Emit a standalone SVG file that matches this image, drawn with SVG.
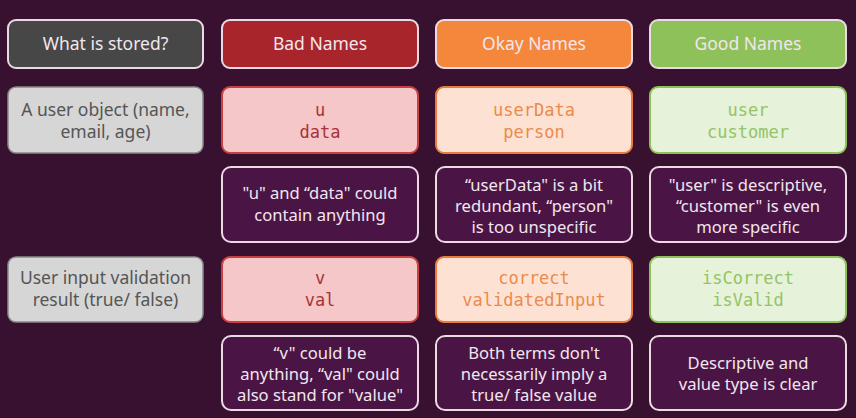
<svg xmlns="http://www.w3.org/2000/svg" width="856" height="418" viewBox="0 0 856 418">
<style>
.t{font-family:"Noto Sans",Lato,sans-serif;font-size:17.5px;text-anchor:middle}
.d{font-family:"Noto Sans",Lato,sans-serif;font-size:16.6px;text-anchor:middle;fill:#f2e6ee}
.m{font-family:"DejaVu Sans Mono","Liberation Mono",monospace;font-size:17px;text-anchor:middle}
.hd{stroke:#eadbe3;stroke-width:2}
.ds{fill:#4a1545;stroke:#eadbe3;stroke-width:2}
.lt{fill:#f2e6ee}
</style>
<rect width="856" height="418" fill="#37112f"/>
<g id="h-stored"><rect class="hd" x="8" y="20" width="195" height="48" rx="8" fill="#474747"/><text class="t lt" x="105.5" y="50">What is stored?</text></g>
<g id="h-bad"><rect class="hd" x="222" y="20" width="196" height="48" rx="8" fill="#a8262b"/><text class="t lt" x="320" y="50">Bad Names</text></g>
<g id="h-okay"><rect class="hd" x="436" y="20" width="196" height="48" rx="8" fill="#f5873d"/><text class="t lt" x="534" y="50">Okay Names</text></g>
<g id="h-good"><rect class="hd" x="650" y="20" width="196" height="48" rx="8" fill="#8fc15a"/><text class="t lt" x="748" y="50">Good Names</text></g>

<g id="r1-what"><rect x="8" y="87" width="195" height="66" rx="8" fill="#d6d6d6" stroke="#8a8a8a" stroke-width="1.5"/><text class="t" fill="#555" x="105.5" y="116">A user object (name,</text><text class="t" fill="#555" x="105.5" y="138">email, age)</text></g>
<g id="r1-bad"><rect x="222" y="87" width="196" height="66" rx="8" fill="#f5c7c9" stroke="#c8403f" stroke-width="2"/><text class="m" fill="#a83236" x="320" y="116">u</text><text class="m" fill="#a83236" x="320" y="138">data</text></g>
<g id="r1-okay"><rect x="436" y="87" width="196" height="66" rx="8" fill="#fde2d3" stroke="#e97c3c" stroke-width="2"/><text class="m" fill="#eb8a4e" x="534" y="116">userData</text><text class="m" fill="#eb8a4e" x="534" y="138">person</text></g>
<g id="r1-good"><rect x="650" y="87" width="196" height="66" rx="8" fill="#e6f2d9" stroke="#8fc15a" stroke-width="2"/><text class="m" fill="#94c466" x="748" y="116">user</text><text class="m" fill="#94c466" x="748" y="138">customer</text></g>

<g id="d1-bad"><rect class="ds" x="222" y="167" width="196" height="75" rx="9"/><text class="d" x="320" y="199">"u" and “data" could</text><text class="d" x="320" y="221">contain anything</text></g>
<g id="d1-okay"><rect class="ds" x="436" y="167" width="196" height="75" rx="9"/><text class="d" x="534" y="191">“userData" is a bit</text><text class="d" x="534" y="212">redundant, “person"</text><text class="d" x="534" y="233">is too unspecific</text></g>
<g id="d1-good"><rect class="ds" x="650" y="167" width="196" height="75" rx="9"/><text class="d" x="748" y="191">"user" is descriptive,</text><text class="d" x="748" y="212">“customer" is even</text><text class="d" x="748" y="233">more specific</text></g>

<g id="r2-what"><rect x="8" y="257" width="195" height="65" rx="8" fill="#d6d6d6" stroke="#8a8a8a" stroke-width="1.5"/><text class="t" fill="#555" x="105.5" y="284">User input validation</text><text class="t" fill="#555" x="105.5" y="306">result (true/ false)</text></g>
<g id="r2-bad"><rect x="222" y="257" width="196" height="65" rx="8" fill="#f5c7c9" stroke="#c8403f" stroke-width="2"/><text class="m" fill="#a83236" x="320" y="284">v</text><text class="m" fill="#a83236" x="320" y="306">val</text></g>
<g id="r2-okay"><rect x="436" y="257" width="196" height="65" rx="8" fill="#fde2d3" stroke="#e97c3c" stroke-width="2"/><text class="m" fill="#eb8a4e" x="534" y="284">correct</text><text class="m" fill="#eb8a4e" x="534" y="306">validatedInput</text></g>
<g id="r2-good"><rect x="650" y="257" width="196" height="65" rx="8" fill="#e6f2d9" stroke="#8fc15a" stroke-width="2"/><text class="m" fill="#94c466" x="748" y="284">isCorrect</text><text class="m" fill="#94c466" x="748" y="306">isValid</text></g>

<g id="d2-bad"><rect class="ds" x="222" y="336" width="196" height="74" rx="9"/><text class="d" x="320" y="359">“v" could be</text><text class="d" x="320" y="380">anything, “val" could</text><text class="d" x="320" y="401">also stand for "value"</text></g>
<g id="d2-okay"><rect class="ds" x="436" y="336" width="196" height="74" rx="9"/><text class="d" x="534" y="359">Both terms don't</text><text class="d" x="534" y="380">necessarily imply a</text><text class="d" x="534" y="401">true/ false value</text></g>
<g id="d2-good"><rect class="ds" x="650" y="336" width="196" height="74" rx="9"/><text class="d" x="748" y="369">Descriptive and</text><text class="d" x="748" y="390">value type is clear</text></g>
<g id="connectors"/>
</svg>
